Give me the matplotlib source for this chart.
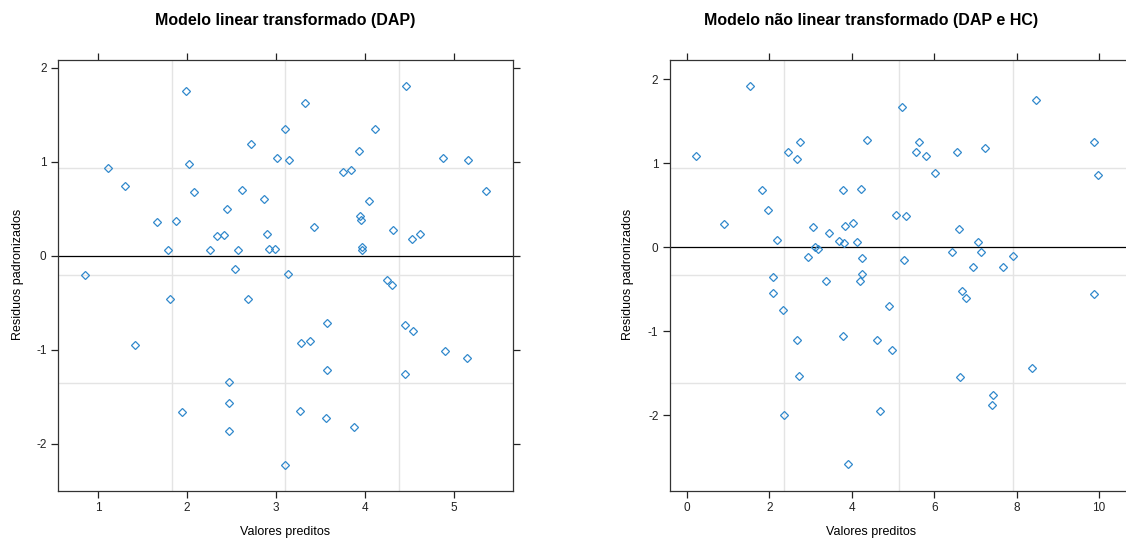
import numpy as np
import matplotlib.pyplot as plt

plt.rcParams['font.family'] = ['Liberation Sans', 'DejaVu Sans']
plt.rcParams['axes.unicode_minus'] = False

# Standardized residuals vs. predicted values, linear model (DAP)
lin_pred = [0.85, 1.11, 1.30, 1.42, 1.66, 1.79, 1.81, 1.88, 1.94, 1.99,
            2.02, 2.08, 2.26, 2.34, 2.42, 2.45, 2.47, 2.47, 2.47, 2.54,
            2.57, 2.62, 2.68, 2.72, 2.86, 2.90, 2.92, 2.99, 3.01, 3.10,
            3.10, 3.14, 3.15, 3.27, 3.28, 3.33, 3.38, 3.43, 3.56, 3.57,
            3.57, 3.75, 3.84, 3.88, 3.93, 3.94, 3.95, 3.97, 3.97, 4.04,
            4.11, 4.25, 4.30, 4.31, 4.45, 4.45, 4.46, 4.53, 4.54, 4.62,
            4.88, 4.90, 5.14, 5.16, 5.36]
lin_res = [-0.20, 0.94, 0.74, -0.95, 0.365, 0.06, -0.46, 0.375, -1.66, 1.76,
           0.98, 0.68, 0.06, 0.21, 0.22, 0.50, -1.34, -1.56, -1.86, -0.14,
           0.06, 0.70, -0.46, 1.19, 0.61, 0.23, 0.07, 0.07, 1.04, 1.35,
           -2.22, -0.19, 1.02, -1.65, -0.93, 1.63, -0.90, 0.31, -1.72, -0.71,
           -1.21, 0.89, 0.91, -1.82, 1.12, 0.43, 0.38, 0.10, 0.06, 0.58,
           1.35, -0.26, -0.31, 0.28, -0.73, -1.26, 1.81, 0.18, -0.80, 0.23,
           1.04, -1.01, -1.09, 1.02, 0.69]

# Nonlinear model (DAP and HC)
nl_pred = [0.23, 0.91, 1.52, 1.83, 1.97, 2.08, 2.08, 2.18, 2.33, 2.35,
           2.46, 2.68, 2.68, 2.71, 2.74, 2.95, 3.07, 3.11, 3.17, 3.37,
           3.45, 3.70, 3.79, 3.79, 3.82, 3.83, 3.92, 4.04, 4.12, 4.20,
           4.23, 4.24, 4.25, 4.37, 4.61, 4.69, 4.91, 4.97, 5.08, 5.22,
           5.27, 5.31, 5.55, 5.64, 5.80, 6.01, 6.43, 6.55, 6.59, 6.63,
           6.67, 6.76, 6.93, 7.07, 7.14, 7.23, 7.40, 7.43, 7.67, 7.90,
           8.37, 8.47, 9.87, 9.88, 9.98]
nl_res = [1.09, 0.28, 1.92, 0.68, 0.45, -0.355, -0.545, 0.09, -0.74, -1.99,
          1.13, 1.05, -1.10, -1.53, 1.25, -0.11, 0.24, 0.00, -0.02, -0.40,
          0.17, 0.08, 0.68, -1.06, 0.05, 0.26, -2.58, 0.29, 0.06, -0.40,
          0.69, -0.125, -0.315, 1.28, -1.10, -1.95, -0.70, -1.22, 0.39, 1.67,
          -0.15, 0.375, 1.13, 1.26, 1.09, 0.88, -0.06, 1.13, 0.22, -1.54,
          -0.52, -0.60, -0.23, 0.06, -0.05, 1.18, -1.87, -1.76, -0.23, -0.10,
          -1.43, 1.75, 1.25, -0.56, 0.86]

titles = ['Modelo linear transformado (DAP)',
          'Modelo não linear transformado (DAP e HC)']
xlabel = 'Valores preditos'
ylabel = 'Residuos padronizados'

point_color = '#3189cc'
fig = plt.figure(figsize=(11.26, 5.43), dpi=100)

panels = [
    dict(rect=[0.05124, 0.0963, 0.4044, 0.7932], x=lin_pred, y=lin_res,
         xlim=(0.547, 5.663), ylim=(-2.497, 2.085), xticks=[1, 2, 3, 4, 5],
         yticks=[-2, -1, 0, 1, 2]),
    dict(rect=[0.5946, 0.0963, 0.4068, 0.7932], x=nl_pred, y=nl_res,
         xlim=(-0.42, 10.69), ylim=(-2.895, 2.23), xticks=[0, 2, 4, 6, 8, 10],
         yticks=[-2, -1, 0, 1, 2]),
]

for p in panels:
    ax = fig.add_axes(p['rect'])
    ax.set_xlim(*p['xlim'])
    ax.set_ylim(*p['ylim'])

    # background grid splits the panel into quarters
    for f in (0.25, 0.5, 0.75):
        ax.axvline(p['xlim'][0] + f * (p['xlim'][1] - p['xlim'][0]),
                   color='#e4e4e4', lw=1.0, zorder=0)
        ax.axhline(p['ylim'][0] + f * (p['ylim'][1] - p['ylim'][0]),
                   color='#e4e4e4', lw=1.0, zorder=0)
    ax.axhline(0, color='black', lw=0.9, zorder=1)

    ax.plot(p['x'], p['y'], linestyle='none', marker='D', markersize=4.0,
            markerfacecolor='none', markeredgecolor=point_color,
            markeredgewidth=0.9, zorder=2)

    ax.set_xticks(p['xticks'])
    ax.set_yticks(p['yticks'])
    ax.tick_params(direction='out', length=5, width=0.9, labelsize=8.5,
                   top=True, right=True, pad=3, colors='#222222')
    for s in ax.spines.values():
        s.set_color('#333333')
        s.set_linewidth(0.9)

fig.text(0.253, 0.963, titles[0], ha='center', va='center',
         fontsize=11.5, fontweight='bold')
fig.text(0.7735, 0.963, titles[1], ha='center', va='center',
         fontsize=11.5, fontweight='bold')
fig.text(0.253, 0.020, xlabel, ha='center', va='center', fontsize=9)
fig.text(0.7735, 0.020, xlabel, ha='center', va='center', fontsize=9)
fig.text(0.016, 0.494, ylabel, ha='center', va='center', fontsize=9,
         rotation=90)
fig.text(0.5577, 0.494, ylabel, ha='center', va='center', fontsize=9,
         rotation=90)

fig.savefig('out.png', dpi=100)
